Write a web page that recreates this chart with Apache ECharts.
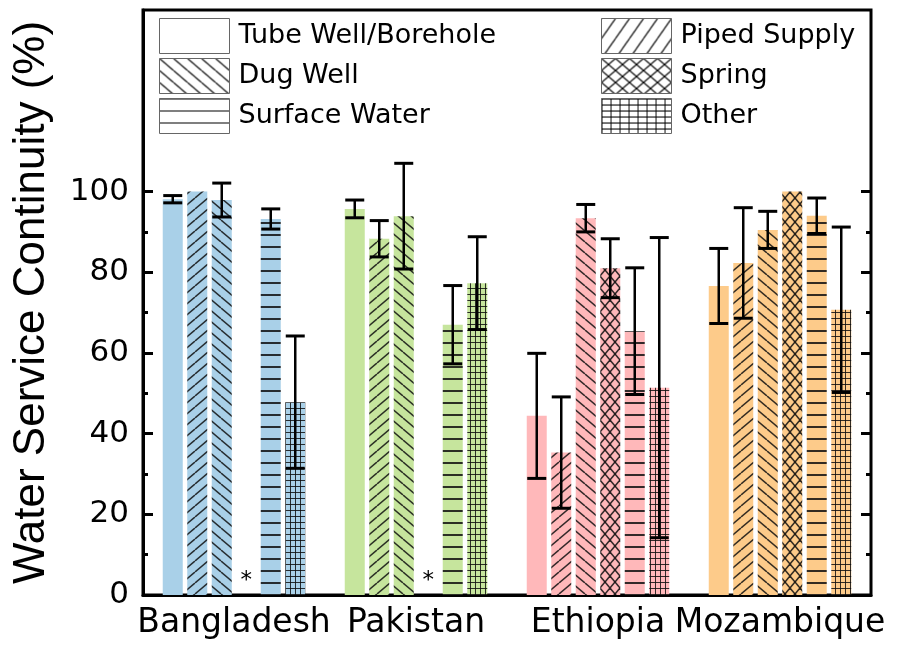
<!DOCTYPE html>
<html><head><meta charset="utf-8">
<script src="https://cdn.jsdelivr.net/npm/echarts@6/dist/echarts.min.js"></script>
<style>html,body{margin:0;padding:0;background:#fff}#c{width:907px;height:654px}</style>
</head><body><div id="c"></div>
<script>
// ---- data ----
const countries = ['Bangladesh', 'Pakistan', 'Ethiopia', 'Mozambique'];
const sourceNames = ['Tube Well/Borehole', 'Piped Supply', 'Dug Well', 'Spring', 'Surface Water', 'Other'];
const tubeWell = [98.1, 95.7, 44.4, 76.6];
const tubeWellErr = [0.9, 2.2, 15.5, 9.3];
const pipedSupply = [100, 88.3, 35.3, 82.3];
const pipedSupplyErr = [null, 4.5, 13.8, 13.7];
const dugWell = [97.9, 93.9, 93.4, 90.5];
const dugWellErr = [4.2, 13.1, 3.4, 4.6];
const spring = [null, null, 81.0, 100];
const springErr = [null, null, 7.3, null];
const surfaceWater = [93.2, 67.0, 65.4, 94.0];
const surfaceWaterErr = [2.5, 9.7, 15.7, 4.4];
const other = [47.8, 77.3, 51.4, 70.7];
const otherErr = [16.4, 11.5, 37.2, 20.5];
const yTickLabels = [0, 20, 40, 60, 80, 100];
const yMinorTicks = [10, 30, 50, 70, 90];
const missingMark = '*';

const values = [tubeWell, pipedSupply, dugWell, spring, surfaceWater, other];
const errors = [tubeWellErr, pipedSupplyErr, dugWellErr, springErr, surfaceWaterErr, otherErr];
const patternTypes = ['plain', 'fwd', 'back', 'cross', 'horiz', 'grid'];
const countryColors = ['#a9d0e8', '#c6e59d', '#ffb8ba', '#fdcb8a'];

// ---- patterns ----
function makePattern(type, bg, ink, lw, dims, hPhase) {
  if (type === 'plain') return bg;
  const [W, H] = dims[type];
  const cv = document.createElement('canvas');
  cv.width = W; cv.height = H;
  const g = cv.getContext('2d');
  g.fillStyle = bg; g.fillRect(0, 0, W, H);
  g.strokeStyle = ink; g.lineWidth = lw;
  const line = (x1, y1, x2, y2) => { g.beginPath(); g.moveTo(x1, y1); g.lineTo(x2, y2); g.stroke(); };
  if (type === 'fwd') { for (const dx of [-W, 0, W]) line(dx, H, dx + W, 0); }
  if (type === 'back') { for (const dx of [-W, 0, W]) line(dx, 0, dx + W, H); }
  if (type === 'cross') { for (const dx of [-W, 0, W]) { line(dx, 0, dx + W, H); line(dx, H, dx + W, 0); } }
  if (type === 'horiz') { g.fillStyle = ink; g.fillRect(0, hPhase, W, Math.max(1, Math.round(lw))); }
  if (type === 'grid') { g.fillStyle = ink; g.fillRect(0, 0, 1, H); g.fillRect(0, 0, W, 1); }
  return {image: cv, repeat: 'repeat'};
}
const barDims = {fwd: [13, 11], back: [13, 11], cross: [10, 12], horiz: [4, 12], grid: [5, 6]};
const legDims = {fwd: [14, 20], back: [14, 12], cross: [14, 12], horiz: [4, 12], grid: [9, 6]};

const barSeries = sourceNames.map((name, s) => ({
  name: name,
  type: 'bar',
  barWidth: 20,
  barGap: '22.5%',
  itemStyle: {color: makePattern(patternTypes[s], '#ffffff', '#000', 1.2, legDims, 0)},
  data: values[s].map((v, c) => {
    const t = patternTypes[s];
    const item = {value: v == null ? 0 : v, itemStyle: {color: makePattern(t, countryColors[c], 'rgba(15,15,15,0.85)', t === 'horiz' ? 2 : (t === 'grid' ? 1 : 1.5), barDims, 6)}};
    if (v == null) item.label = {show: true, formatter: missingMark, position: 'top', distance: 2, fontSize: 23, fontFamily: 'DejaVu Sans', color: '#000'};
    return item;
  })
}));

const errData = [];
values.forEach((vals, s) => vals.forEach((v, c) => {
  const e = errors[s][c];
  if (v != null && e != null) errData.push([c, s, v - e, v + e]);
}));

const PITCH = 24.5, HALF_CAP = 9.5;
const errSeries = {
  type: 'custom', name: 'err', z: 5,
  data: errData,
  encode: {x: 0, y: [2, 3]},
  renderItem(params, api) {
    const c = api.value(0), s = api.value(1);
    const lo = api.coord([c, api.value(2)]);
    const hi = api.coord([c, api.value(3)]);
    const x = lo[0] + (s - 2.5) * PITCH;
    const st = {stroke: '#000', lineWidth: 2.5};
    const cs = {stroke: '#000', lineWidth: 3};
    return {type: 'group', children: [
      {type: 'line', shape: {x1: x, y1: lo[1], x2: x, y2: hi[1]}, style: st},
      {type: 'line', shape: {x1: x - HALF_CAP, y1: lo[1], x2: x + HALF_CAP, y2: lo[1]}, style: cs},
      {type: 'line', shape: {x1: x - HALF_CAP, y1: hi[1], x2: x + HALF_CAP, y2: hi[1]}, style: cs}
    ]};
  }
};

const legendCommon = {
  orient: 'vertical', top: 18, itemWidth: 70, itemHeight: 35, itemGap: 4, icon: 'rect', padding: 0,
  selectedMode: false,
  textStyle: {fontFamily: 'DejaVu Sans', fontSize: 27, color: '#000', padding: [0, 0, 0, 4]},
  itemStyle: {borderColor: '#666', borderWidth: 1}
};

function yAx(pos, vals, len, main) {
  const a = {
    type: 'value', min: 0, max: 145, position: pos,
    axisLine: {show: main && pos === 'left', lineStyle: {color: '#000', width: 3}},
    axisTick: {show: true, inside: true, length: len, lineStyle: {color: '#000', width: 3}, customValues: vals},
    axisLabel: {show: main && pos === 'left', customValues: vals, fontFamily: 'DejaVu Sans', fontSize: 31, color: '#000', margin: 14,
      formatter: v => (v <= 100 ? String(v) : '')},
    splitLine: {show: false}
  };
  if (main && pos === 'left') {
    a.name = 'Water Service Continuity (%)';
    a.nameLocation = 'middle';
    a.nameGap = 89;
    a.nameTextStyle = {fontFamily: 'Liberation Sans', fontSize: 44, color: '#000'};
  }
  return a;
}

const chart = echarts.init(document.getElementById('c'), null, {renderer: 'canvas'});
chart.setOption({
  animation: false,
  backgroundColor: '#fff',
  grid: {left: 143, right: 36, top: 10, bottom: 59, show: true, borderColor: '#000', borderWidth: 3, containLabel: false},
  legend: [
    Object.assign({}, legendCommon, {left: 159, data: ['Tube Well/Borehole', 'Dug Well', 'Surface Water']}),
    Object.assign({}, legendCommon, {left: 601, data: ['Piped Supply', 'Spring', 'Other']})
  ],
  xAxis: {
    type: 'category', data: countries,
    axisTick: {show: false},
    axisLine: {lineStyle: {color: '#000', width: 3}},
    axisLabel: {fontFamily: 'DejaVu Sans', fontSize: 33, color: '#000', margin: 12, interval: 0}
  },
  yAxis: [
    yAx('left', yTickLabels, 10, true),
    yAx('left', yMinorTicks, 5, false),
    yAx('right', yTickLabels, 10, false),
    yAx('right', yMinorTicks, 5, false)
  ],
  series: barSeries.concat([errSeries])
});
</script></body></html>
